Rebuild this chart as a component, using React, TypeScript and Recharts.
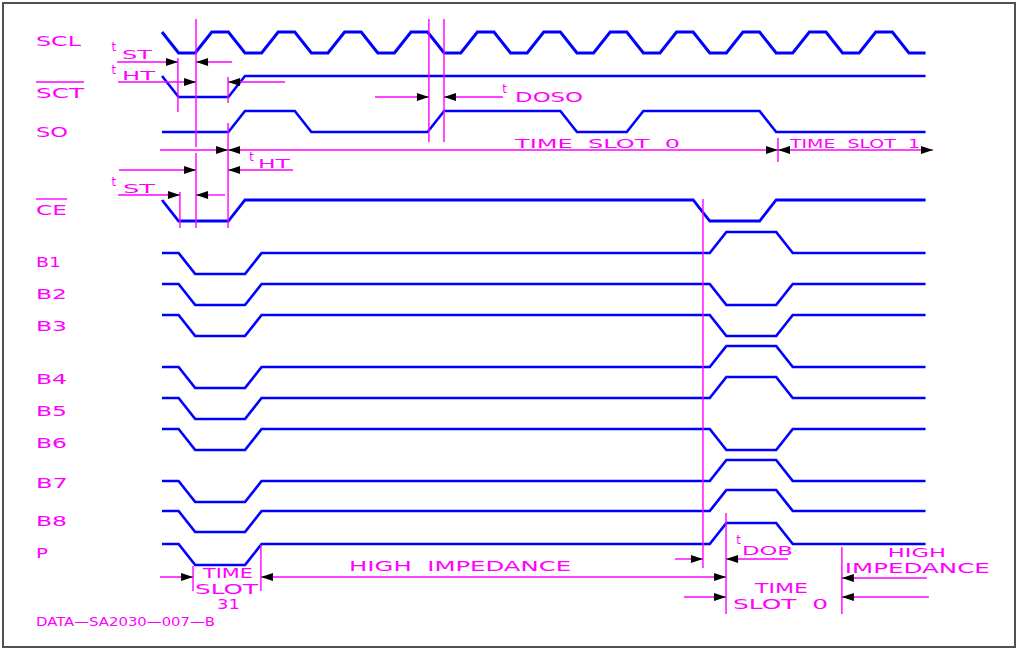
import React from 'react';
import { LineChart, Line, XAxis, YAxis, ReferenceLine, ReferenceDot } from 'recharts';

const W = 1020;
const H = 649;
const BLUE = '#0000ff';
const PINK = '#ff00ff';
const FONT = '"DejaVu Sans", sans-serif';

// time axis in quarter clock periods (t = 0 at start of the first SCL fall)
const X_DOMAIN: [number, number] = [-9.76, 51.69];
const Y_DOMAIN: [number, number] = [0, 649];

// SCL: one level per quarter period
const sclTimes = [
  0, 1, 2, 3, 4, 5, 6, 7, 8, 9, 10, 11, 12, 13, 14, 15, 16, 17, 18, 19, 20, 21, 22, 23,
  24, 25, 26, 27, 28, 29, 30, 31, 32, 33, 34, 35, 36, 37, 38, 39, 40, 41, 42, 43, 44, 45, 46,
];
const sclLevels = [
  1, 0, 0, 1, 1, 0, 0, 1, 1, 0, 0, 1, 1, 0, 0, 1, 1, 0, 0, 1, 1, 0, 0, 1,
  1, 0, 0, 1, 1, 0, 0, 1, 1, 0, 0, 1, 1, 0, 0, 1, 1, 0, 0, 1, 1, 0, 0,
];

const sctTimes = [0, 1, 4, 5, 46];
const sctLevels = [1, 0, 0, 1, 1];

const soTimes = [0, 4, 5, 8, 9, 16, 17, 24, 25, 28, 29, 36, 37, 46];
const soLevels = [0, 0, 1, 1, 0, 0, 1, 1, 0, 0, 1, 1, 0, 0];

const ceTimes = [0, 1, 4, 5, 32, 33, 36, 37, 46];
const ceLevels = [1, 0, 0, 1, 1, 0, 0, 1, 1];

// data bus: idle = 0, bit driven in time slot 31 and in time slot 0
const busNames = ['B1', 'B2', 'B3', 'B4', 'B5', 'B6', 'B7', 'B8', 'P'];
const busTimes = [0, 1, 2, 5, 6, 33, 34, 37, 38, 46];
const slot31Bits = [-1, -1, -1, -1, -1, -1, -1, -1, -1];
const slot0Bits = [1, -1, -1, 1, 1, -1, 1, 1, 1];

// vertical placement of each trace (level 0)
const ROW_BASE: Record<string, number> = {
  SCL: 53, SCT: 97, SO: 132, CE: 221,
  B1: 253, B2: 284, B3: 315, B4: 367, B5: 398, B6: 429, B7: 481, B8: 511, P: 544,
};
const SWING = 21;

const wave = (row: string, times: number[], levels: number[]) =>
  times.map((t, i) => ({ t, y: ROW_BASE[row] - levels[i] * SWING }));

const busLevels = (i: number) => [0, 0, slot31Bits[i], slot31Bits[i], 0, 0, slot0Bits[i], slot0Bits[i], 0, 0];

const traces = [
  { key: 'SCL', data: wave('SCL', sclTimes, sclLevels), w: 3 },
  { key: 'SCT', data: wave('SCT', sctTimes, sctLevels), w: 2.6 },
  { key: 'SO', data: wave('SO', soTimes, soLevels), w: 2.6 },
  { key: 'CE', data: wave('CE', ceTimes, ceLevels), w: 2.8 },
  ...busNames.map((n, i) => ({ key: n, data: wave(n, busTimes, busLevels(i)), w: 2.7 })),
];

// dimension lines: [t1, y1, t2, y2]
const dimLines: number[][] = [
  [2.05, 19, 2.05, 147], [2.05, 153, 2.05, 228],
  [0.96, 58, 0.96, 112],
  [1.08, 192, 1.08, 228],
  [3.98, 77, 3.98, 103], [3.98, 123, 3.98, 228],
  [16.08, 19, 16.08, 142], [16.99, 19, 16.99, 142],
  [37.11, 138, 37.11, 162],
  [32.59, 199, 32.59, 568],
  [33.98, 513, 33.98, 614],
  [40.96, 547, 40.96, 614],
  [1.87, 566, 1.87, 591], [5.96, 545, 5.96, 591],
  [-2.71, 62, 0.96, 62], [2.05, 62, 4.22, 62],
  [-2.65, 82, 2.05, 82], [3.98, 82, 7.41, 82],
  [-0.12, 150, 46.45, 150],
  [-2.59, 170, 2.05, 170], [3.98, 170, 7.89, 170],
  [-2.65, 195, 1.08, 195], [2.05, 195, 3.8, 195],
  [12.83, 97, 16.08, 97], [16.99, 97, 20.54, 97],
  [-0.12, 577, 1.87, 577], [5.96, 577, 33.98, 577],
  [30.9, 559, 32.59, 559], [33.98, 559, 37.71, 559],
  [31.45, 597, 33.98, 597], [40.96, 597, 46.2, 597],
  [40.96, 578, 46.08, 578],
  // overbars of SCT and CE labels
  [-7.59, 82, -4.7, 82], [-7.59, 199, -5.72, 199],
];

// arrow heads: [t, y, direction]
const arrows: [number, number, 'l' | 'r'][] = [
  [0.96, 62, 'r'], [2.05, 62, 'l'],
  [2.05, 82, 'r'], [3.98, 82, 'l'],
  [3.98, 150, 'r'], [3.98, 150, 'l'], [37.11, 150, 'r'], [37.11, 150, 'l'], [46.45, 150, 'r'],
  [2.05, 170, 'r'], [3.98, 170, 'l'],
  [1.08, 195, 'r'], [2.05, 195, 'l'],
  [16.08, 97, 'r'], [16.99, 97, 'l'],
  [1.87, 577, 'r'], [5.96, 577, 'l'], [33.98, 577, 'r'],
  [32.59, 559, 'r'], [33.98, 559, 'l'],
  [33.98, 597, 'r'], [40.96, 597, 'l'],
  [40.96, 578, 'l'],
];

type Txt = { t: number; y: number; s: string; size: number; w?: number };
const texts: Txt[] = [
  { t: -7.59, y: 46, s: 'SCL', size: 13.7, w: 45 },
  { t: -7.59, y: 97.5, s: 'SCT', size: 13.7, w: 48 },
  { t: -7.59, y: 137, s: 'SO', size: 13.7, w: 32 },
  { t: -7.59, y: 215, s: 'CE', size: 13.7, w: 31 },
  { t: -7.59, y: 267, s: 'B1', size: 13.7, w: 25 },
  { t: -7.59, y: 299, s: 'B2', size: 13.7, w: 31 },
  { t: -7.59, y: 331, s: 'B3', size: 13.7, w: 31 },
  { t: -7.59, y: 384, s: 'B4', size: 13.7, w: 31 },
  { t: -7.59, y: 416, s: 'B5', size: 13.7, w: 31 },
  { t: -7.59, y: 448, s: 'B6', size: 13.7, w: 31 },
  { t: -7.59, y: 488, s: 'B7', size: 13.7, w: 32 },
  { t: -7.59, y: 526, s: 'B8', size: 13.7, w: 31 },
  { t: -7.59, y: 558, s: 'P', size: 13.7, w: 12 },
  { t: -7.59, y: 626, s: 'DATA\u2014SA2030\u2014007\u2014B', size: 12.3, w: 179 },
  { t: -3.05, y: 50.5, s: 't', size: 11.5 },
  { t: -2.41, y: 59, s: 'ST', size: 11.5, w: 30 },
  { t: -3.05, y: 73.5, s: 't', size: 11.5 },
  { t: -2.41, y: 80, s: 'HT', size: 13, w: 33 },
  { t: 5.26, y: 160.5, s: 't', size: 11.5 },
  { t: 5.78, y: 167.5, s: 'HT', size: 13, w: 32 },
  { t: -3.05, y: 185.5, s: 't', size: 11.5 },
  { t: -2.35, y: 193, s: 'ST', size: 13, w: 32 },
  { t: 20.5, y: 92.5, s: 't', size: 11.5 },
  { t: 21.27, y: 102, s: 'DOSO', size: 13.5, w: 68 },
  { t: 21.27, y: 148, s: 'TIME  SLOT  0', size: 12.3, w: 165 },
  { t: 37.83, y: 148, s: 'TIME  SLOT  1', size: 12.3, w: 130 },
  { t: 2.47, y: 578, s: 'TIME', size: 13.5, w: 50 },
  { t: 1.99, y: 594, s: 'SLOT', size: 13.5, w: 63 },
  { t: 3.31, y: 609, s: '31', size: 13.5, w: 23 },
  { t: 11.27, y: 571, s: 'HIGH  IMPEDANCE', size: 14.5, w: 222 },
  { t: 34.6, y: 543.5, s: 't', size: 11.5 },
  { t: 34.94, y: 555, s: 'DOB', size: 12.5, w: 51 },
  { t: 35.72, y: 593, s: 'TIME', size: 13.5, w: 53 },
  { t: 34.4, y: 609, s: 'SLOT  0', size: 13.5, w: 95 },
  { t: 43.73, y: 557, s: 'HIGH', size: 12.5, w: 58 },
  { t: 41.14, y: 573, s: 'IMPEDANCE', size: 13.5, w: 145 },
];

const arrowShape = (dir: 'l' | 'r') => (p: any) => {
  const { cx, cy } = p;
  const back = dir === 'r' ? cx - 12 : cx + 12;
  return <polygon points={`${cx},${cy} ${back},${cy - 4} ${back},${cy + 4}`} fill="#000" />;
};

const textShape = (item: Txt) => (p: any) => (
  <text
    x={p.cx}
    y={p.cy}
    fill={PINK}
    fontFamily={FONT}
    fontSize={item.size}
    textLength={item.w}
    lengthAdjust={item.w ? 'spacingAndGlyphs' : undefined}
    style={{ whiteSpace: 'pre' }}
  >
    {item.s}
  </text>
);

export default function App() {
  return (
    <div style={{ position: 'absolute', left: 0, top: 0, width: W, height: H, background: '#fff' }}>
      <div
        style={{
          position: 'absolute', left: 2, top: 2, width: 1014, height: 646,
          border: '2px solid #505050', boxSizing: 'border-box',
        }}
      />
      <div style={{ position: 'absolute', left: 0, top: 0 }}>
        <LineChart width={W} height={H} margin={{ top: 0, right: 0, bottom: 0, left: 0 }}>
          <XAxis type="number" dataKey="t" domain={X_DOMAIN} allowDataOverflow hide />
          <YAxis type="number" dataKey="y" domain={Y_DOMAIN} reversed allowDataOverflow hide />
          {traces.map((tr) => (
            <Line
              key={tr.key}
              data={tr.data}
              dataKey="y"
              type="linear"
              stroke={BLUE}
              strokeWidth={tr.w}
              dot={false}
              activeDot={false}
              isAnimationActive={false}
            />
          ))}
          {dimLines.map((d, i) => (
            <ReferenceLine
              key={`d${i}`}
              segment={[{ x: d[0], y: d[1] }, { x: d[2], y: d[3] }]}
              stroke={PINK}
              strokeWidth={1.4}
              ifOverflow="visible"
            />
          ))}
          {arrows.map((a, i) => (
            <ReferenceDot key={`a${i}`} x={a[0]} y={a[1]} r={0} ifOverflow="visible" shape={arrowShape(a[2])} />
          ))}
          {texts.map((tx, i) => (
            <ReferenceDot key={`t${i}`} x={tx.t} y={tx.y} r={0} ifOverflow="visible" shape={textShape(tx)} />
          ))}
        </LineChart>
      </div>
    </div>
  );
}
